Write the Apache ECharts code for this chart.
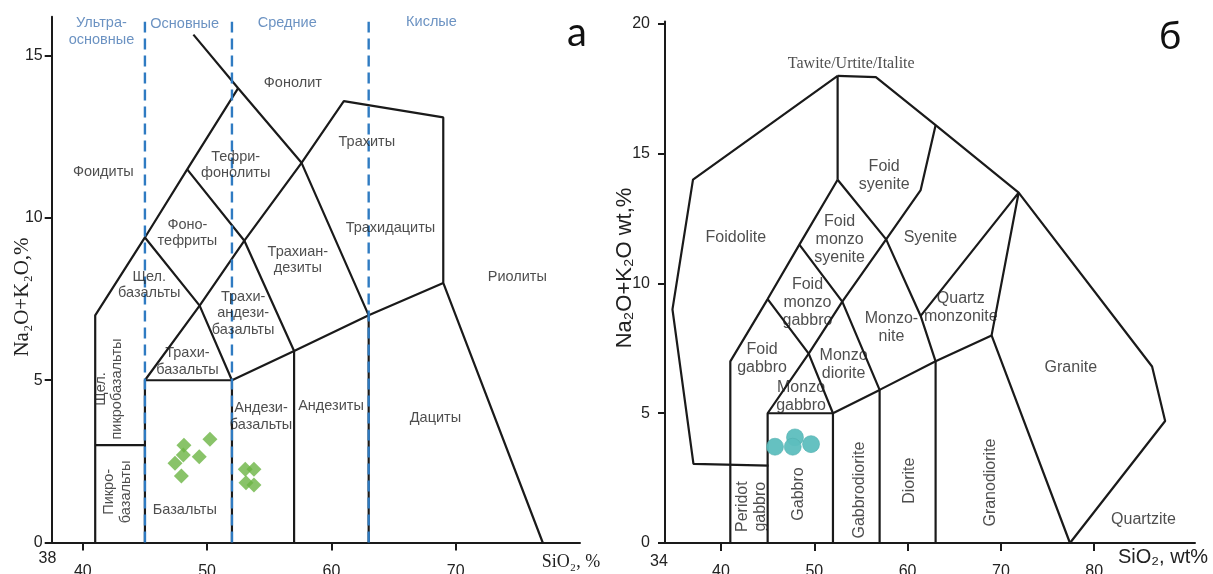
<!DOCTYPE html>
<html><head><meta charset="utf-8">
<script src="https://cdn.jsdelivr.net/npm/echarts@6/dist/echarts.min.js"></script>
<style>html,body{margin:0;padding:0;background:#fff}#c{width:1213px;height:574px}</style>
</head><body><div id="c"></div>
<script>
// ---------- DATA ----------
const leftXTicks = [40, 50, 60, 70];
const leftYTicks = [0, 5, 10, 15];
const rightXTicks = [40, 50, 60, 70, 80];
const rightYTicks = [0, 5, 10, 15, 20];
const leftOriginLabel = '38';
const rightOriginLabel = '34';

// Left: TAS (volcanic) field boundaries, SiO2 vs Na2O+K2O
const leftBoundaries = [
  [[41,0],[41,7],[45,9.4],[48.4,11.5],[52.5,14]],
  [[48.9,15.65],[52.5,14],[57.6,11.7],[63,7]],
  [[41,3],[45,3]],
  [[45,0],[45,5],[49.4,7.3],[53,9.3],[57.6,11.7],[61,13.6],[69,13.1],[69,8],[77,0]],
  [[45,9.4],[49.4,7.3],[52,5]],
  [[48.4,11.5],[53,9.3],[57,5.9]],
  [[45,5],[52,5],[57,5.9],[63,7],[69,8]],
  [[52,0],[52,5]],
  [[57,0],[57,5.9]],
  [[63,0],[63,7]]
];
const leftClassLimits = [45, 52, 63];
const leftClassTop = 16.05;
const leftClassNames = [
  ['Ультра-\nосновные', 41.5, 15.75],
  ['Основные', 48.2, 15.98],
  ['Средние', 56.45, 16.02],
  ['Кислые', 68.05, 16.04]
];
const leftFieldLabels = [
  ['Фонолит', 56.9, 14.15],
  ['Трахиты', 62.85, 12.35],
  ['Тефри-\nфонолиты', 52.3, 11.63],
  ['Фоидиты', 41.65, 11.43],
  ['Фоно-\nтефриты', 48.42, 9.53],
  ['Трахидациты', 64.75, 9.68],
  ['Трахиан-\nдезиты', 57.3, 8.71],
  ['Щел.\nбазальты', 45.35, 7.94],
  ['Риолиты', 74.96, 8.17],
  ['Трахи-\nандези-\nбазальты', 52.9, 7.07],
  ['Трахи-\nбазальты', 48.42, 5.58],
  ['Андези-\nбазальты', 54.34, 3.88],
  ['Андезиты', 59.97, 4.21],
  ['Дациты', 68.37, 3.85],
  ['Базальты', 48.21, 1.0]
];
const leftVerticalLabels = [
  ['Щел.\nпикробазальты', 42.11, 4.73],
  ['Пикро-\nбазальты', 42.81, 1.56]
];
const leftSamples = [
  [48.14, 3.00], [50.23, 3.18], [48.09, 2.70], [49.37, 2.64], [47.42, 2.44],
  [47.93, 2.05], [53.07, 2.26], [53.77, 2.26], [53.13, 1.84], [53.77, 1.77]
];

// Right: TAS (plutonic) field boundaries
const rightBoundaries = [
  [[52.5,14],[52.5,18],[37,14],[34.8,9],[37.05,3.05],[45.1,2.98]],
  [[52.5,18],[56.6,17.95],[63,16.1],[71.9,13.5],[86.2,6.8],[87.6,4.7],[77.4,0]],
  [[52.5,14],[57.7,11.7],[61.4,8.75],[63,7]],
  [[57.7,11.7],[61.4,13.6],[63,16.1]],
  [[61.4,8.75],[71.9,13.5],[69,8]],
  [[45,0],[45,5],[49.4,7.3],[53,9.3],[57.7,11.7]],
  [[45,9.4],[49.4,7.3],[52,5]],
  [[48.4,11.5],[53,9.3],[57,5.9]],
  [[45,5],[52,5],[57,5.9],[63,7],[69,8],[77.4,0]],
  [[52,0],[52,5]],
  [[57,0],[57,5.9]],
  [[63,0],[63,7]],
  [[41,0],[41,7],[45,9.4],[48.4,11.5],[52.5,14]]
];
const rightTopLabel = ['Tawite/Urtite/Italite', 53.96, 18.46];
const rightFieldLabels = [
  ['Foid\nsyenite', 57.49, 14.15],
  ['Foidolite', 41.59, 11.77],
  ['Foid\nmonzo\nsyenite', 52.71, 11.69],
  ['Syenite', 62.44, 11.77],
  ['Foid\nmonzo\ngabbro', 49.27, 9.26],
  ['Quartz\nmonzonite', 65.7, 9.09],
  ['Monzo-\nnite', 58.27, 8.3],
  ['Foid\ngabbro', 44.4, 7.12],
  ['Monzo\ndiorite', 53.14, 6.87],
  ['Granite', 77.49, 6.77],
  ['Monzo\ngabbro', 48.58, 5.63],
  ['Quartzite', 85.28, 0.89]
];
const rightVerticalLabels = [
  ['Peridot\ngabbro', 43.29, 1.4],
  ['Gabbro', 48.31, 1.89],
  ['Gabbrodiorite', 54.81, 2.04],
  ['Diorite', 60.17, 2.4],
  ['Granodiorite', 68.92, 2.33]
];
const rightSamples = [[45.79, 3.71], [47.93, 4.07], [47.69, 3.71], [49.65, 3.81]];

// ---------- CHART ----------
const SANS = 'Liberation Sans, Arial, sans-serif';
const SERIF = 'Liberation Serif, Times New Roman, serif';
const INK = '#1a1a1a';

function axisX(grid, min, max, ticks) {
  return {
    type: 'value', gridIndex: grid, min: min, max: max,
    axisLine: {show: true, onZero: false, lineStyle: {color: INK, width: 2}},
    axisTick: {show: true, customValues: ticks, length: 8, lineStyle: {color: INK, width: 2}},
    axisLabel: {show: true, customValues: ticks, margin: 21, fontSize: 16, color: '#222', fontFamily: SANS},
    splitLine: {show: false}
  };
}
function axisY(grid, min, max, ticks, margin) {
  return {
    type: 'value', gridIndex: grid, min: min, max: max,
    axisLine: {show: true, onZero: false, lineStyle: {color: INK, width: 2}},
    axisTick: {show: true, customValues: ticks, length: 7, lineStyle: {color: INK, width: 2}},
    axisLabel: {show: true, customValues: ticks, margin: margin, fontSize: 16, color: '#222', fontFamily: SANS},
    splitLine: {show: false}
  };
}
function boundarySeries(lines, idx) {
  return lines.map(pts => ({
    type: 'line', xAxisIndex: idx, yAxisIndex: idx, data: pts,
    symbol: 'none', showSymbol: false, silent: true, clip: false, z: 2,
    lineStyle: {color: INK, width: 2.2}
  }));
}
function labelSeries(items, idx, style, rotate) {
  return {
    type: 'scatter', xAxisIndex: idx, yAxisIndex: idx, silent: true, z: 5,
    symbolSize: 1, itemStyle: {color: 'rgba(0,0,0,0)'},
    label: Object.assign({show: true, position: 'inside', rotate: rotate || 0,
      formatter: p => p.name, align: 'center', verticalAlign: 'middle'}, style),
    data: items.map(a => ({name: a[0], value: [a[1], a[2]]}))
  };
}

const leftStyle = {fontSize: 14.5, lineHeight: 16.5, color: '#222', fontFamily: SANS};
const rightStyle = {fontSize: 16, lineHeight: 18, color: '#222', fontFamily: SANS};

const series = []
  .concat(boundarySeries(leftBoundaries, 0))
  .concat(leftClassLimits.map(x => ({
    type: 'line', xAxisIndex: 0, yAxisIndex: 0, data: [[x, 0], [x, leftClassTop]],
    symbol: 'none', silent: true, z: 3, lineStyle: {color: '#2f7bc2', width: 2.4, type: [11, 6]}
  })))
  .concat([
    labelSeries(leftFieldLabels, 0, leftStyle),
    labelSeries(leftVerticalLabels, 0, leftStyle, 90),
    labelSeries(leftClassNames, 0, {fontSize: 14.5, lineHeight: 17, color: '#4677b3', fontFamily: SANS}),
    {type: 'scatter', xAxisIndex: 0, yAxisIndex: 0, symbol: 'diamond', symbolSize: 15,
     itemStyle: {color: '#6bb443'}, z: 6, silent: true, data: leftSamples}
  ])
  .concat(boundarySeries(rightBoundaries, 1))
  .concat([
    labelSeries(rightFieldLabels, 1, rightStyle),
    labelSeries(rightVerticalLabels, 1, rightStyle, 90),
    labelSeries([rightTopLabel], 1, {fontSize: 16, color: '#222', fontFamily: SERIF}),
    {type: 'scatter', xAxisIndex: 1, yAxisIndex: 1, symbol: 'circle', symbolSize: 17,
     itemStyle: {color: '#5dbebe', opacity: 0.95, borderColor: '#52b0b0', borderWidth: 0.6}, z: 6, silent: true, data: rightSamples}
  ]);

const chart = echarts.init(document.getElementById('c'), null, {renderer: 'canvas'});
chart.setOption({
  animation: false,
  backgroundColor: '#fff',
  grid: [
    {left: 51.7, top: 16.8, width: 528.3, height: 525.7, outerBoundsMode: 'none'},
    {left: 665, top: 21.4, width: 530, height: 521.6, outerBoundsMode: 'none'}
  ],
  xAxis: [axisX(0, 37.5, 80, leftXTicks), axisX(1, 34, 90.8, rightXTicks)],
  yAxis: [axisY(0, 0, 16.2, leftYTicks, 9), axisY(1, 0, 20.1, rightYTicks, 15)],
  series: series,
  graphic: [
    {type: 'text', x: 47.5, y: 559, style: {text: leftOriginLabel, fontSize: 16, fill: '#222', fontFamily: SANS, align: 'center', verticalAlign: 'middle'}},
    {type: 'text', x: 659, y: 562, style: {text: rightOriginLabel, fontSize: 16, fill: '#222', fontFamily: SANS, align: 'center', verticalAlign: 'middle'}},
    {type: 'text', x: 571, y: 562, style: {text: 'SiO₂, %', fontSize: 18, fill: '#222', fontFamily: SERIF, align: 'center', verticalAlign: 'middle'}},
    {type: 'text', x: 1163, y: 557, style: {text: 'SiO₂, wt%', fontSize: 20, fill: '#222', fontFamily: SANS, align: 'center', verticalAlign: 'middle'}},
    {type: 'text', x: 22, y: 297, rotation: Math.PI / 2, style: {text: 'Na₂O+K₂O,%', fontSize: 21, fill: '#222', fontFamily: SERIF, align: 'center', verticalAlign: 'middle'}},
    {type: 'text', x: 625, y: 268, rotation: Math.PI / 2, style: {text: 'Na₂O+K₂O wt,%', fontSize: 22, fill: '#222', fontFamily: SANS, align: 'center', verticalAlign: 'middle'}},
    {type: 'text', x: 577, y: 33, style: {text: 'а', fontSize: 40, fill: '#111', fontFamily: 'Lato, Liberation Sans, sans-serif', align: 'center', verticalAlign: 'middle'}},
    {type: 'text', x: 1170, y: 37, style: {text: 'б', fontSize: 38, fill: '#111', fontFamily: 'Lato, Liberation Sans, sans-serif', align: 'center', verticalAlign: 'middle'}}
  ]
});
</script>
</body></html>
